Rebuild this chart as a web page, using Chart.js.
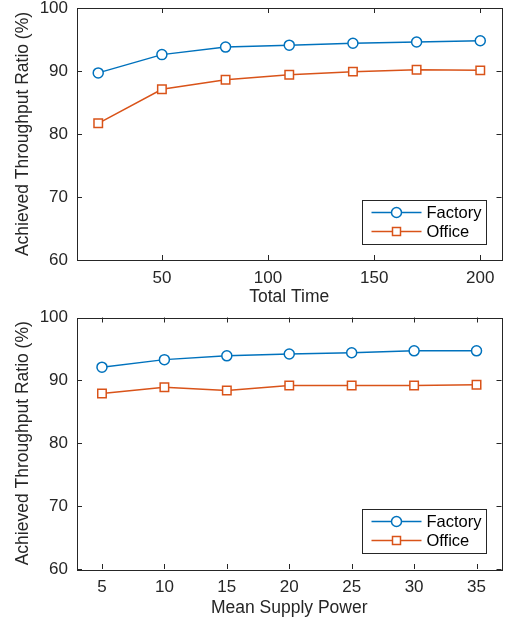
<!DOCTYPE html>
<html>
<head>
<meta charset="utf-8">
<script src="https://cdn.jsdelivr.net/npm/chart.js@4.4.1/dist/chart.umd.min.js"></script>
<style>
  html, body { margin: 0; padding: 0; background: #fff; }
  .box { position: absolute; left: 0; width: 509px; }
  #top { top: 0; height: 310px; }
  #bottom { top: 310px; height: 311px; }
</style>
</head>
<body>
<div class="box" id="top"><canvas id="timeChart"></canvas></div>
<div class="box" id="bottom"><canvas id="powerChart"></canvas></div>
<script>
const totalTime = [20, 50, 80, 110, 140, 170, 200];
const factoryByTime = [89.7, 92.6, 93.8, 94.1, 94.4, 94.6, 94.8];
const officeByTime = [81.7, 87.1, 88.6, 89.4, 89.9, 90.2, 90.1];

const supplyPower = [5, 10, 15, 20, 25, 30, 35];
const factoryByPower = [92.1, 93.3, 93.9, 94.2, 94.4, 94.7, 94.7];
const officeByPower = [87.9, 88.9, 88.4, 89.2, 89.2, 89.2, 89.3];

const ratioTicks = [60, 70, 80, 90, 100];
const timeTicks = [50, 100, 150, 200];
const powerTicks = [5, 10, 15, 20, 25, 30, 35];

const BLUE = '#0072BD';
const ORANGE = '#D95319';
const INK = '#262626';
const FONT = 'Liberation Sans, Arial, sans-serif';

// matlab style box with inward ticks on every side, plus the inset legend
const boxPlugin = {
  id: 'matlabBox',
  beforeDatasetsDraw(chart) {
    const { ctx, chartArea: a, scales } = chart;
    ctx.save();
    ctx.strokeStyle = INK;
    ctx.lineWidth = 1;
    ctx.beginPath();
    scales.x.ticks.forEach(t => {
      const px = Math.round(scales.x.getPixelForValue(t.value)) + 0.5;
      ctx.moveTo(px, a.bottom); ctx.lineTo(px, a.bottom - 5);
      ctx.moveTo(px, a.top); ctx.lineTo(px, a.top + 5);
    });
    scales.y.ticks.forEach(t => {
      const py = Math.round(scales.y.getPixelForValue(t.value)) + 0.5;
      ctx.moveTo(a.left, py); ctx.lineTo(a.left + 5, py);
      ctx.moveTo(a.right, py); ctx.lineTo(a.right - 5, py);
    });
    ctx.stroke();
    ctx.strokeRect(Math.round(a.left) + 0.5, Math.round(a.top) + 0.5,
      Math.round(a.right - a.left), Math.round(a.bottom - a.top));
    ctx.restore();
  },
  afterDatasetsDraw(chart) {
    const { ctx, chartArea: a } = chart;
    const w = 124, h = 44;
    const left = Math.round(a.right - 16 - w) + 0.5;
    const top = Math.round(a.bottom - 16 - h) + 0.5;
    ctx.save();
    ctx.fillStyle = '#fff';
    ctx.fillRect(left, top, w, h);
    ctx.strokeStyle = INK;
    ctx.lineWidth = 1;
    ctx.strokeRect(left, top, w, h);
    ctx.font = '16.5px ' + FONT;
    ctx.textBaseline = 'middle';
    chart.data.datasets.forEach((ds, i) => {
      const y = top + 12 + i * 19;
      ctx.strokeStyle = ds.borderColor;
      ctx.lineWidth = 1.5;
      ctx.beginPath();
      ctx.moveTo(left + 9, y); ctx.lineTo(left + 59, y);
      ctx.stroke();
      ctx.fillStyle = '#fff';
      ctx.beginPath();
      if (ds.pointStyle === 'circle') {
        ctx.arc(left + 34, y, 5, 0, Math.PI * 2);
      } else {
        ctx.rect(left + 30, y - 4, 8, 8);
      }
      ctx.fill();
      ctx.stroke();
      ctx.fillStyle = '#000';
      ctx.fillText(ds.label, left + 64, y + 1);
    });
    ctx.restore();
  }
};

function series(label, xs, ys, color, style, radius) {
  return {
    label: label,
    data: xs.map((x, i) => ({ x: x, y: ys[i] })),
    borderColor: color,
    backgroundColor: '#fff',
    borderWidth: 1.5,
    pointStyle: style,
    pointRadius: radius,
    pointBorderWidth: 1.5,
    pointBackgroundColor: '#fff',
    tension: 0
  };
}

function makeChart(id, xs, factory, office, xTicks, xMin, xMax, xTitle, padTop, xHeight) {
  return new Chart(document.getElementById(id), {
    type: 'line',
    data: {
      datasets: [
        series('Factory', xs, factory, BLUE, 'circle', 5),
        series('Office', xs, office, ORANGE, 'rect', 6)
      ]
    },
    options: {
      responsive: true,
      maintainAspectRatio: false,
      animation: false,
      layout: { padding: { top: padTop, right: 6, bottom: 0, left: 0 } },
      scales: {
        x: {
          type: 'linear',
          min: xMin,
          max: xMax,
          afterBuildTicks: s => { s.ticks = xTicks.map(v => ({ value: v })); },
          afterFit: s => { s.height = xHeight; s.paddingLeft = 0; s.paddingRight = 0; },
          grid: { display: false, drawTicks: false },
          border: { display: false },
          ticks: { color: INK, font: { family: FONT, size: 17 }, padding: 8, maxRotation: 0 },
          title: { display: true, text: xTitle, color: INK, font: { family: FONT, size: 17.5 }, padding: { top: 0, bottom: 2 } }
        },
        y: {
          min: 60,
          max: 100,
          afterBuildTicks: s => { s.ticks = ratioTicks.map(v => ({ value: v })); },
          afterFit: s => { s.width = 77; s.paddingTop = 0; s.paddingBottom = 0; },
          grid: { display: false, drawTicks: false },
          border: { display: false },
          ticks: { color: INK, font: { family: FONT, size: 17 }, padding: 9 },
          title: { display: true, text: 'Achieved Throughput Ratio (%)', color: INK, font: { family: FONT, size: 17.5 }, padding: { top: 13, bottom: 0 } }
        }
      },
      plugins: {
        legend: { display: false },
        tooltip: { enabled: false }
      }
    },
    plugins: [boxPlugin]
  });
}

makeChart('timeChart', totalTime, factoryByTime, officeByTime, timeTicks, 10, 210, 'Total Time', 8, 50);
makeChart('powerChart', supplyPower, factoryByPower, officeByPower, powerTicks, 3, 37, 'Mean Supply Power', 7, 52);
</script>
</body>
</html>
